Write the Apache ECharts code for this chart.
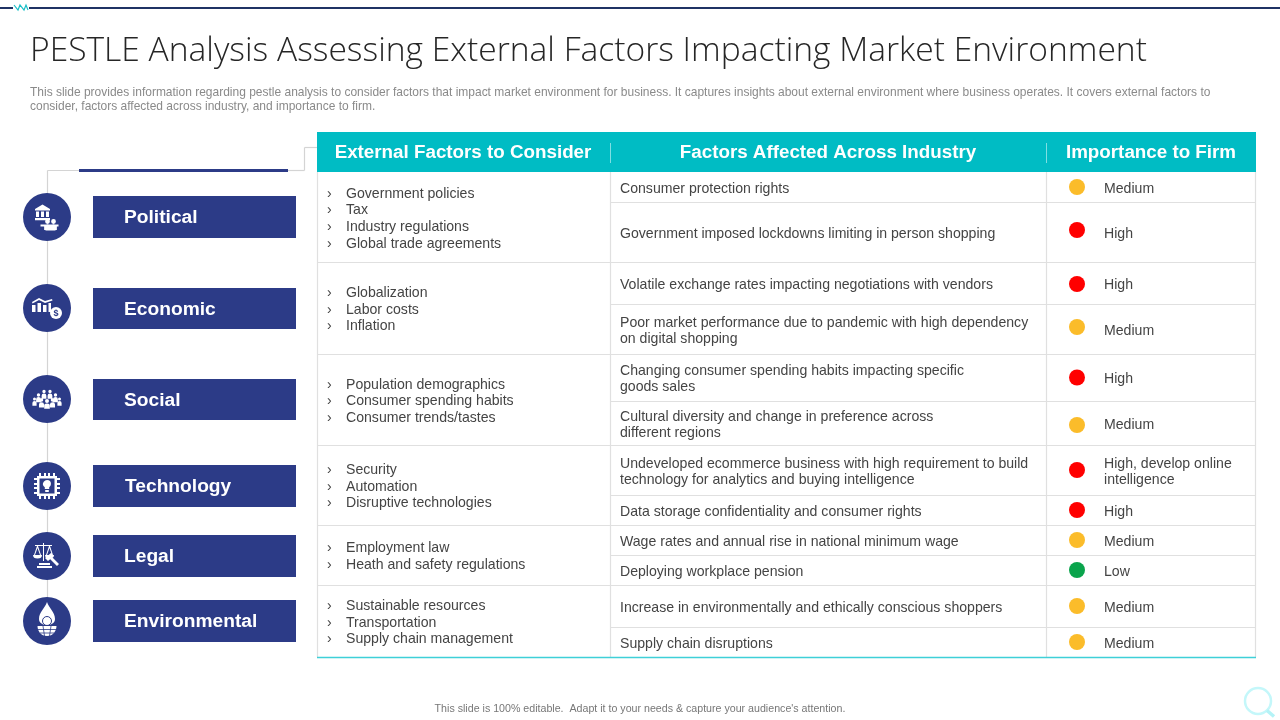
<!DOCTYPE html>
<html>
<head>
<meta charset="utf-8">
<title>PESTLE Analysis</title>
<script src="https://cdn.jsdelivr.net/npm/echarts@6/dist/echarts.min.js"></script>
<style>
html, body { margin: 0; padding: 0; background: #fff; }
#main { width: 1280px; height: 720px; }
</style>
</head>
<body>
<div id="main"></div>
<script>
// ---------- content ----------
var titleText = 'PESTLE Analysis Assessing External Factors Impacting Market Environment';
var subtitleLines = [
    'This slide provides information regarding pestle analysis to consider factors that impact market environment for business. It captures insights about external environment where business operates. It covers external factors to',
    'consider, factors affected across industry, and importance to firm.'
];
var footerText = "This slide is 100% editable.  Adapt it to your needs & capture your audience's attention.";
var headers = ['External Factors to Consider', 'Factors Affected Across Industry', 'Importance to Firm'];
var categories = ['Political', 'Economic', 'Social', 'Technology', 'Legal', 'Environmental'];
var externalFactors = [
    ['Government policies', 'Tax', 'Industry regulations', 'Global trade agreements'],
    ['Globalization', 'Labor costs', 'Inflation'],
    ['Population demographics', 'Consumer spending habits', 'Consumer trends/tastes'],
    ['Security', 'Automation', 'Disruptive technologies'],
    ['Employment law', 'Heath and safety regulations'],
    ['Sustainable resources', 'Transportation', 'Supply chain management']
];
var affectedFactors = [
    ['Consumer protection rights'],
    ['Government imposed lockdowns limiting in person shopping'],
    ['Volatile exchange rates impacting negotiations with vendors'],
    ['Poor market performance due to pandemic with high dependency', 'on digital shopping'],
    ['Changing consumer spending habits impacting specific', 'goods sales'],
    ['Cultural diversity and change in preference across', 'different regions'],
    ['Undeveloped ecommerce business with high requirement to build', 'technology for analytics and buying intelligence'],
    ['Data storage confidentiality and consumer rights'],
    ['Wage rates and annual rise in national minimum wage'],
    ['Deploying workplace pension'],
    ['Increase in environmentally and ethically conscious shoppers'],
    ['Supply chain disruptions']
];
var importanceLabels = [
    ['Medium'], ['High'], ['High'], ['Medium'], ['High'], ['Medium'],
    ['High, develop online', 'intelligence'], ['High'], ['Medium'], ['Low'], ['Medium'], ['Medium']
];
var importanceLevels = ['Medium', 'High', 'High', 'Medium', 'High', 'Medium', 'High', 'High', 'Medium', 'Low', 'Medium', 'Medium'];

// ---------- layout ----------
var levelColors = { High: '#ff0000', Medium: '#fbbc2a', Low: '#0aa44c' };
var navy = '#2c3b87';
var teal = '#00bcc4';
var border = '#e0e0e0';
var tableTop = 172;
var colEdges = [317, 610, 1046, 1256];
var rowHeights = [30, 60, 42, 50, 47, 44, 50, 30, 30, 30, 42, 30];
var groupSpans = [2, 2, 2, 2, 2, 2];
var dotNudges = [0, -2, 1, -2, 0, 2, 0, 0, 0, 0, 0, 0];
var bandTops = [196, 288, 379, 465, 535, 600];
var bandHeights = [42, 41, 41, 42, 42, 42];
var circleYs = [217, 308, 399, 486, 556, 621];

var FONT = '"Liberation Sans", Arial, sans-serif';
var g = [];

function rect(x, y, w, h, fill) {
    g.push({ type: 'rect', silent: true, shape: { x: x, y: y, width: w, height: h }, style: { fill: fill } });
}
function line(x1, y1, x2, y2, color, width) {
    g.push({ type: 'line', silent: true, shape: { x1: x1, y1: y1, x2: x2, y2: y2 }, style: { stroke: color, lineWidth: width || 1 } });
}
function text(str, x, y, font, fill, align) {
    g.push({ type: 'text', silent: true, style: { text: str, x: x, y: y, font: font, fill: fill, textAlign: align || 'left', textVerticalAlign: 'middle' } });
}

// row centres, shared by the text and the dots
var rowEdges = [0];
rowHeights.forEach(function (h, i) { rowEdges.push(rowEdges[i] + h); });
var tableHeight = rowEdges[rowEdges.length - 1];
var rowCentres = rowHeights.map(function (h, i) { return rowEdges[i] + h / 2; });

// top rule and little teal mark
rect(0, 7, 1280, 2, '#1f3264');
rect(13, 4, 16, 7, '#fff');
g.push({ type: 'polyline', silent: true, shape: { points: [[14, 5], [18, 10], [20, 5], [24, 10], [26, 5], [28, 10]] }, style: { stroke: '#19bfc7', fill: null, lineWidth: 1.2 } });

text(titleText, 30, 51, '300 33.6px "Open Sans", sans-serif', '#262626');
text(subtitleLines[0], 30, 93, '11.99px ' + FONT, '#8a8a8a');
text(subtitleLines[1], 30, 107, '11.99px ' + FONT, '#8a8a8a');
text(footerText, 640, 709, '10.65px ' + FONT, '#777', 'center');

// timeline connectors
var grey = '#d4d4d4';
line(47.5, 170.5, 47.5, 620, grey, 1.2);
line(47.5, 170.5, 80, 170.5, grey, 1.2);
line(288, 170.5, 304.5, 170.5, grey, 1.2);
line(304.5, 170.5, 304.5, 147.5, grey, 1.2);
line(304.5, 147.5, 317, 147.5, grey, 1.2);
rect(79, 169, 209, 3, navy);

// category bands and circles
categories.forEach(function (name, i) {
    rect(93, bandTops[i], 203, bandHeights[i], navy);
    text(name, name === 'Technology' ? 125 : 124, bandTops[i] + bandHeights[i] / 2 + 1, 'bold 19.2px ' + FONT, '#fff');
    g.push({ type: 'circle', silent: true, shape: { cx: 47, cy: circleYs[i], r: 24 }, style: { fill: navy } });
});

// head and shoulders for the people pictograms
function person(x, y, r) {
    var w = r * 1.4;
    return 'M' + (x - r) + ' ' + y + 'a' + r + ' ' + r + ' 0 1 1 ' + (2 * r) + ' 0a' + r + ' ' + r + ' 0 1 1 ' + (-2 * r) + ' 0Z' +
        'M' + (x - w) + ' ' + (y + r + 2.6) + 'q0-2.2 ' + w + '-2.2q' + w + ' 0 ' + w + ' 2.2v' + (r + 1.2) + 'h' + (-2 * w) + 'Z';
}

// small white pictograms, drawn around each circle centre
var icons = [
    // bank and people at a desk
    'M-4.5-12.5 L3-8 V-6.5 H-12 V-8 Z M-11-5.5H-8V0H-11Z M-6-5.5H-3V0H-6Z M-1-5.5H2V0H-1Z M-12 1H3V3.2H-12Z' +
    person(0.5, 4.5, 2.4) + person(6.5, 4.5, 2.4) + 'M-6.5 7.5H11.5V9.5H8.5V13.5H-1.5V9.5H-6.5Z',
    // trend line and bars
    'M-15-6 L-8-10 L-2-7 L5-9 L5.5-7.5 L-2-5 L-8-8 L-14.5-4.5Z M-15-3H-11.5V4H-15Z M-9.5-5H-6V4H-9.5Z M-4-3H-.5V4H-4Z M1.5-5H4V4H1.5Z',
    // group of people
    person(-3, -7.5, 1.7) + person(3, -7.5, 1.7) + person(-8.5, -4, 1.7) + person(8.5, -4, 1.7) +
    person(-12.5, 0, 1.5) + person(12.5, 0, 1.5) + person(-5.5, 1, 1.8) + person(5.5, 1, 1.8) + person(0, 2, 2),
    // chip with pins
    'M-10-10H10V10H-10Z M-7.5-7.5V7.5H7.5V-7.5Z' +
    'M-8-13h2v3h-2Z M-3-13h2v3h-2Z M1-13h2v3h-2Z M6-13h2v3h-2Z M-8 10h2v3h-2Z M-3 10h2v3h-2Z M1 10h2v3h-2Z M6 10h2v3h-2Z' +
    'M-13-8h3v2h-3Z M-13-3h3v2h-3Z M-13 1h3v2h-3Z M-13 6h3v2h-3Z M10-8h3v2h-3Z M10-3h3v2h-3Z M10 1h3v2h-3Z M10 6h3v2h-3Z' +
    'M0-6a4 4 0 0 1 2.2 7.3V3H-2.2V1.3A4 4 0 0 1 0-6Z M-1.8 4H1.8V6H-1.8Z',
    // scales and gavel
    'M-4-13H-3V5H-4Z M-12-11H5V-10H-12Z M-13-1L-10-10H-9L-6-1H-7L-9.5-8L-12-1Z M-1-1L2-10H3L6-1H5L2.5-8L0-1Z' +
    'M-14-1H-5a4.5 3.5 0 0 1-9 0Z M-2-1H7a4.5 3.5 0 0 1-9 0Z M-2 2L4-3L7 0L1 5Z M3 3L5 1L12 8L10 10Z M-8 7H3V9H-8Z M-10 10H5V12H-10Z',
    // drop over a globe
    'M0-19C2-13 8-9 8-2C8 2 4 4 0 4C-4 4-8 2-8-2C-8-9-2-13 0-19Z' +
    'M-9.5 5H9.5C9.5 10 6 15 0 15C-6 15-9.5 10-9.5 5Z'
];
icons.forEach(function (d, i) {
    echarts.graphic.registerShape('pestleIcon' + i, echarts.graphic.extendPath(d, {}));
    g.push({
        type: 'pestleIcon' + i, silent: true, x: 47, y: circleYs[i],
        style: { fill: '#fff' }
    });
});
// coin on the economic icon
g.push({ type: 'circle', silent: true, shape: { cx: 56, cy: 313, r: 6 }, style: { fill: '#fff' } });
text('$', 56, 314, 'bold 9px ' + FONT, navy, 'center');
// leaf in the drop and grid on the globe
var envY = circleYs[5];
g.push({ type: 'circle', silent: true, shape: { cx: 47, cy: envY + 0, r: 4.5 }, style: { fill: 'none', stroke: navy, lineWidth: 1 } });
line(38, envY + 8.5, 56, envY + 8.5, navy, 0.8);
line(40, envY + 12, 54, envY + 12, navy, 0.8);
line(43, envY + 5, 44.5, envY + 15, navy, 0.8);
line(51, envY + 5, 49.5, envY + 15, navy, 0.8);

// table header
rect(colEdges[0], 132, colEdges[3] - colEdges[0], 40, teal);
var headerCentres = [463, 828, 1151];
headers.forEach(function (h, i) {
    text(h, headerCentres[i], 153, 'bold 18.8px ' + FONT, '#fff', 'center');
});
line(610.5, 143, 610.5, 163, '#7fdfe3');
line(1046.5, 143, 1046.5, 163, '#7fdfe3');

// table rules
line(317.5, tableTop, 317.5, tableTop + tableHeight, border, 1.2);
line(610.5, tableTop, 610.5, tableTop + tableHeight, border, 1.2);
line(1046.5, tableTop, 1046.5, tableTop + tableHeight, border, 1.2);
line(1255.5, tableTop, 1255.5, tableTop + tableHeight, border, 1.2);
rowEdges.slice(1, -1).forEach(function (e, i) {
    var fromX = (i % 2 === 1) ? colEdges[0] : colEdges[1];
    line(fromX, tableTop + e + 0.5, colEdges[3], tableTop + e + 0.5, border, 1.2);
});
line(colEdges[0], tableTop + tableHeight + 0.5, colEdges[3], tableTop + tableHeight + 0.5, '#3fd0d8', 1.5);

// first column lists
var cellFont = '14.1px ' + FONT;
var cellColor = '#444';
var rowIdx = 0;
externalFactors.forEach(function (items, i) {
    var top = rowEdges[rowIdx];
    rowIdx += groupSpans[i];
    var mid = tableTop + (top + rowEdges[rowIdx]) / 2 + 1.8;
    items.forEach(function (t, k) {
        var y = mid + (k - (items.length - 1) / 2) * 16.6;
        text('›', 327, y, cellFont, cellColor);
        text(t, 346, y, cellFont, cellColor);
    });
});

// second and third column text
function cell(lines, x, centre) {
    lines.forEach(function (t, k) {
        text(t, x, tableTop + centre + 2 + (k - (lines.length - 1) / 2) * 16, cellFont, cellColor);
    });
}
affectedFactors.forEach(function (lines, i) { cell(lines, 620, rowCentres[i]); });
importanceLabels.forEach(function (lines, i) { cell(lines, 1104, rowCentres[i]); });

// magnifier watermark
g.push({ type: 'circle', silent: true, shape: { cx: 1258, cy: 701, r: 13 }, style: { fill: 'none', stroke: '#c4f7fa', lineWidth: 2.5 } });
line(1267, 710.5, 1274, 716.5, '#b4f3f7', 3.5);

// importance dots go through their own axes
var dotData = importanceLevels.map(function (lvl, i) {
    return {
        value: ['dot', rowCentres[i]],
        symbolOffset: [0, dotNudges[i]],
        itemStyle: { color: levelColors[lvl], opacity: 1 }
    };
});

var chart = echarts.init(document.getElementById('main'), null, { renderer: 'canvas' });
chart.setOption({
    animation: false,
    backgroundColor: '#fff',
    grid: { left: 1047, width: 60, top: tableTop, height: tableHeight },
    xAxis: { type: 'category', data: ['dot'], show: false },
    yAxis: { type: 'value', inverse: true, min: 0, max: tableHeight, show: false },
    series: [{ type: 'scatter', symbol: 'circle', symbolSize: 16, data: dotData, silent: true }],
    graphic: { elements: g }
});
</script>
</body>
</html>
